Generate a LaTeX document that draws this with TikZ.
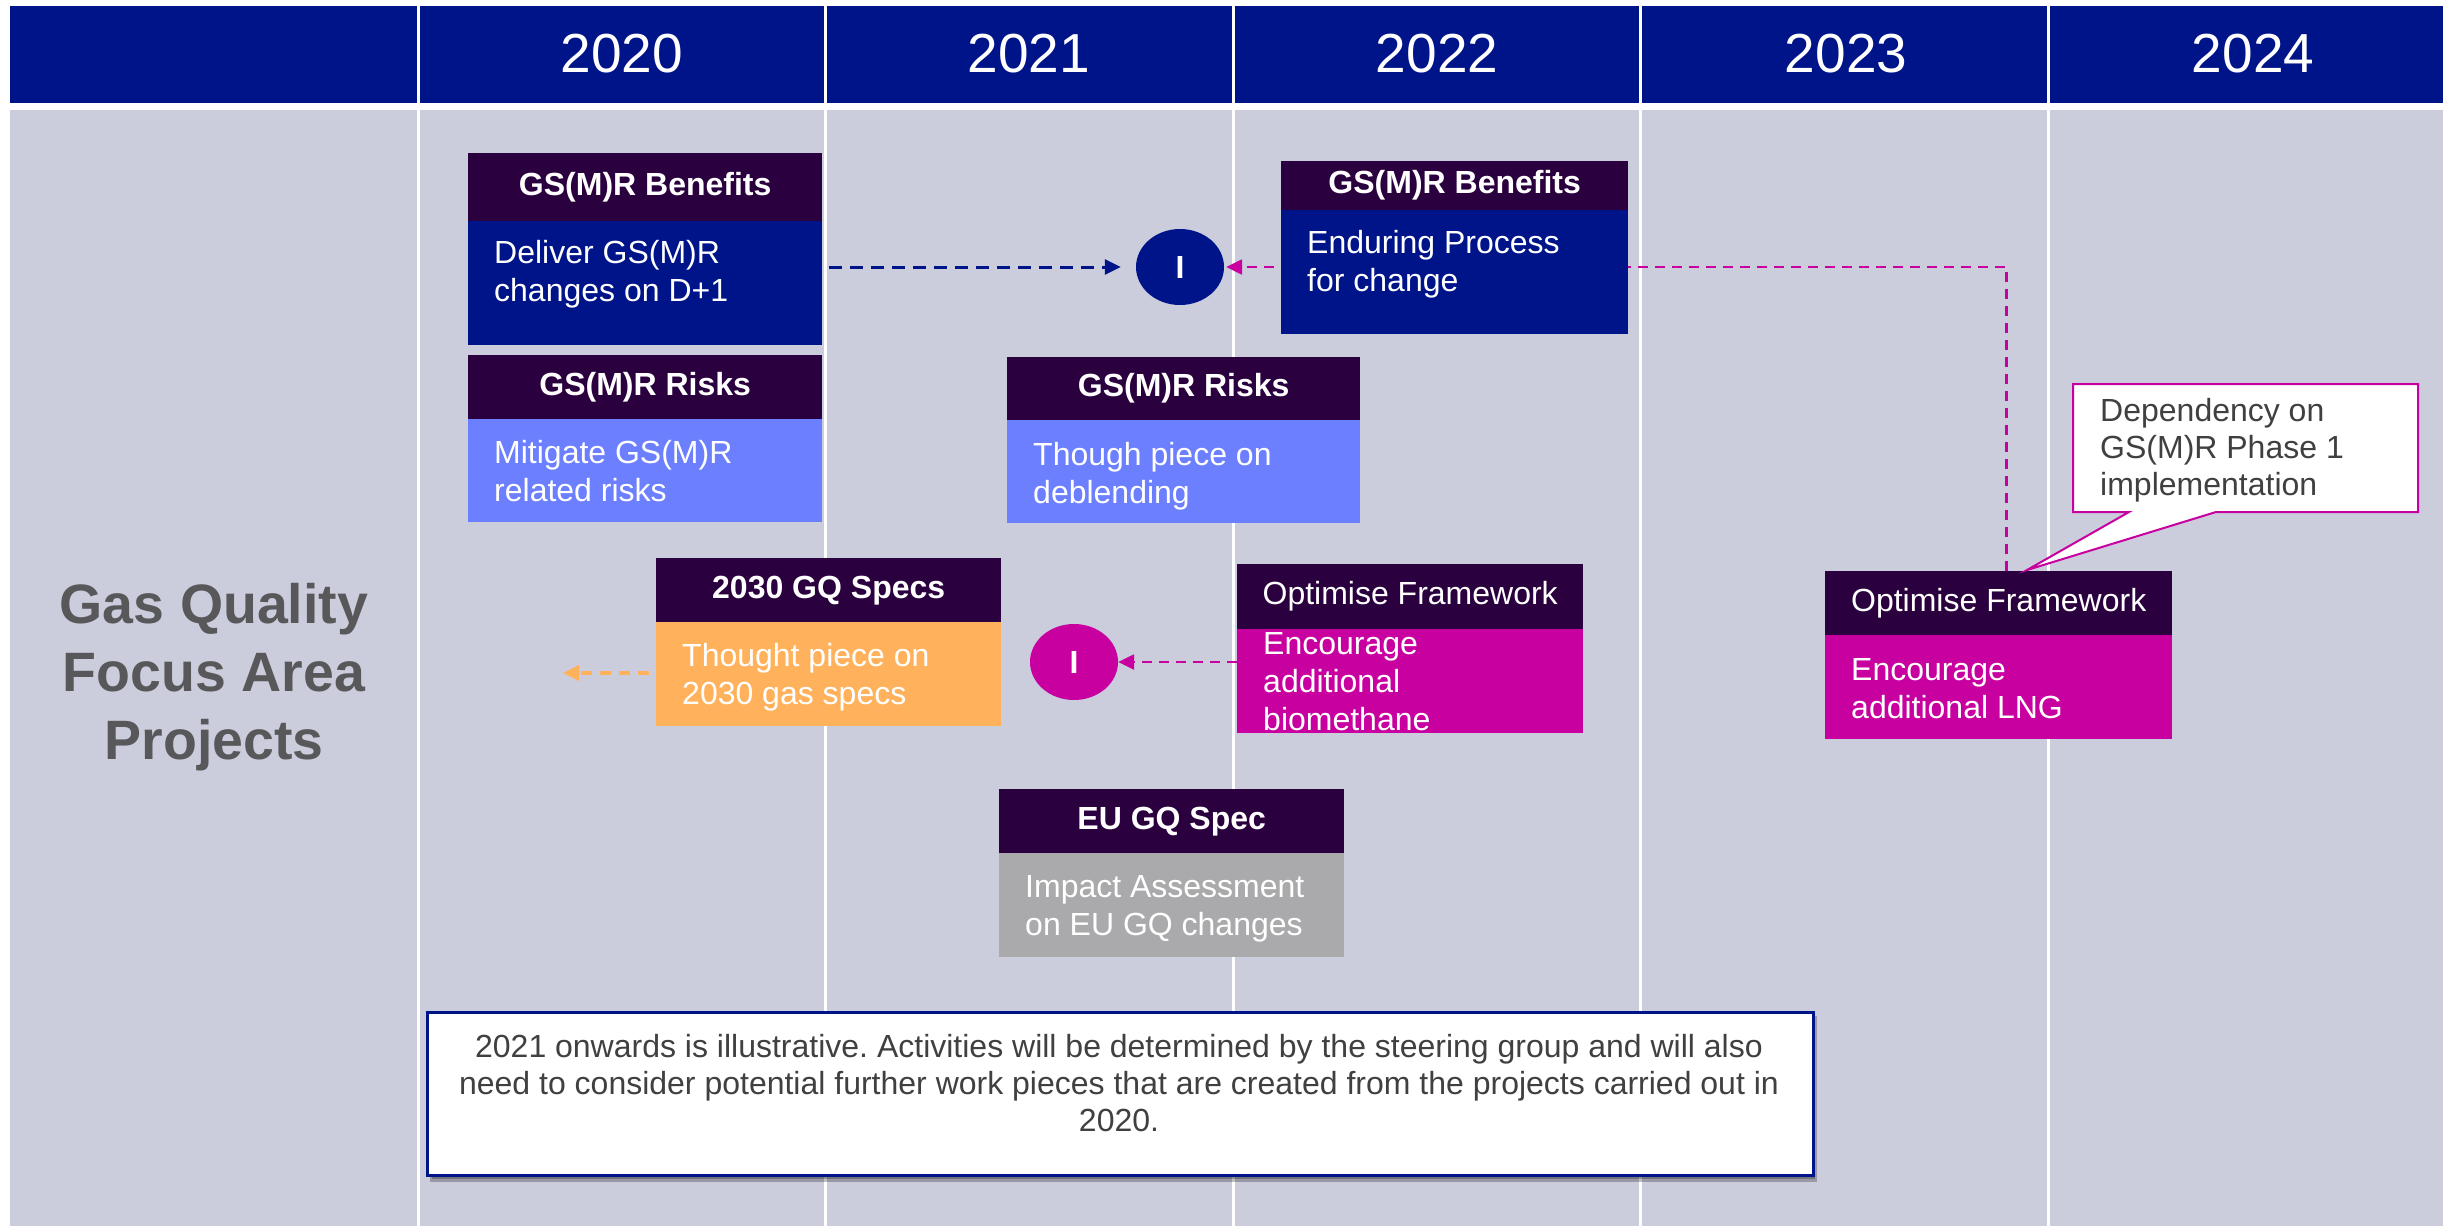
\documentclass[tikz,border=0pt]{standalone}
\usepackage{fontspec}
\setmainfont{Liberation Sans}
\usetikzlibrary{arrows.meta,calc,shapes.geometric}
\frenchspacing
\definecolor{navy}{RGB}{0,20,137}
\definecolor{bodygray}{RGB}{203,205,220}
\definecolor{hdrpurple}{RGB}{43,0,62}
\definecolor{periw}{RGB}{107,127,255}
\definecolor{orng}{RGB}{255,178,91}
\definecolor{mgnt}{RGB}{200,0,160}
\definecolor{boxgray}{RGB}{170,170,172}
\definecolor{lbltext}{RGB}{88,88,91}
\definecolor{darktext}{RGB}{64,64,64}
\newcommand{\fsz}[2]{\fontsize{#1}{#2}\selectfont}
% name, x left, x right, y top, y header/body, y bottom, body colour, header text, y of body text centre; body text follows as {...};
\newcommand{\pbox}[9]{%
  \node[hdrbox, minimum width={(#3-#2)*1pt}, minimum height={(#5-#4)*1pt}] (#1h) at (#2,#4) {#8};
  \node[bodybox, fill=#7, minimum width={(#3-#2)*1pt}, minimum height={(#6-#5)*1pt}] (#1b) at (#2,#5) {};
  \node[bodytxt] (#1t) at ({#2+26},#9)
}
\begin{document}
\begin{tikzpicture}[x=1pt,y=-1pt,
  hdrbox/.style={fill=hdrpurple, text=white, inner sep=0pt, anchor=north west, font=\fsz{32}{38}},
  bodybox/.style={inner sep=0pt, anchor=north west},
  bodytxt/.style={text=white, anchor=west, align=left, inner sep=0pt, font=\fsz{32}{38}},
  yearlbl/.style={text=white, font=\fsz{55}{66}},
  sepline/.style={white, line width=3pt},
  ibubble/.style={ellipse, minimum width=88pt, minimum height=76pt, inner sep=0pt, text=white, font=\fsz{32}{38}\bfseries},
  tip/.style={-{Triangle[length=16pt,width=15pt]}},
  navyarrow/.style={tip, draw=navy, line width=3pt, dash pattern=on 13pt off 8pt},
  magarrow/.style={tip, draw=mgnt, line width=2.5pt, dash pattern=on 10pt off 7pt},
  orarrow/.style={tip, draw=orng, line width=3.5pt, dash pattern=on 11pt off 8pt},
]
\useasboundingbox (0,0) rectangle (2443,1226);
\fill[white] (0,0) rectangle (2443,1226);
% header band and body
\fill[navy] (10,6) rectangle (2443,103);
\fill[bodygray] (10,110) rectangle (2443,1226);
\foreach \sx in {418,825.5,1233,1640.5,2048} {
  \draw[sepline] (\sx,6) -- (\sx,103);
  \draw[sepline] (\sx,110) -- (\sx,1226);
}
\node[yearlbl] (y2020) at (622,54) {2020};
\node[yearlbl] (y2021) at (1029,54) {2021};
\node[yearlbl] (y2022) at (1437,54) {2022};
\node[yearlbl] (y2023) at (1846,54) {2023};
\node[yearlbl] (y2024) at (2253,54) {2024};
% left label
\node[font=\fsz{55.5}{68}\bfseries, text=lbltext, align=center] (lbl) at (214,677) {Gas Quality\\Focus Area\\Projects};

% circles
\node[ibubble, fill=navy] (c1) at (1180,267) {I};
\node[ibubble, fill=mgnt] (c2) at (1074,662) {I};

% box 7 first, then the connector that runs behind box 3
\pbox{b7}{1825}{2172}{571}{635}{739}{mgnt}{Optimise Framework}{689}{Encourage\\additional LNG};
\draw[magarrow, shorten >=2pt] ([xshift=8pt]b7h.north) |- (c1.east);

\pbox{b1}{468}{822}{153}{221}{345}{navy}{\bfseries GS(M)R Benefits}{274}{Deliver GS(M)R\\changes on D+1};
\pbox{b2}{468}{822}{355}{419}{522}{periw}{\bfseries GS(M)R Risks}{471}{Mitigate GS(M)R\\related risks};
\pbox{b3}{1281}{1628}{161}{210}{334}{navy}{\bfseries GS(M)R Benefits}{264}{Enduring Process\\for change};
\pbox{b4}{1007}{1360}{357}{420}{523}{periw}{\bfseries GS(M)R Risks}{476}{Though piece on\\deblending};
\pbox{b5}{656}{1001}{558}{622}{726}{orng}{\bfseries 2030 GQ Specs}{677}{Thought piece on\\2030 gas specs};
\pbox{b6}{1237}{1583}{564}{629}{733}{mgnt}{Optimise Framework}{682}{Encourage\\additional\\biomethane};
\pbox{b8}{999}{1344}{789}{853}{957}{boxgray}{\bfseries EU GQ Spec}{909}{Impact Assessment\\on EU GQ changes};

% connectors
\draw[navyarrow, shorten >=15pt] ($(b1b.east |- c1.west)+(7,0)$) -- (c1.west);
\draw[magarrow] (b6b.west |- c2.east) -- (c2.east);
\coordinate (orend) at (563,673);
\draw[orarrow, shorten <=7pt] (b5b.west |- orend) -- (orend);

% callout
\draw[mgnt, line width=2pt, fill=white, line join=miter]
  (2073,384) -- (2418,384) -- (2418,512) -- (2216,512) -- (2027,570) -- (2129,512) -- (2073,512) -- cycle;
\node[anchor=west, align=left, inner sep=0pt, text=darktext, font=\fsz{32}{37}] (dep) at (2100,450)
  {Dependency on\\GS(M)R Phase 1\\implementation};

% note
\fill[black, opacity=0.25] (430,1016) rectangle (1817,1182);
\fill[black, opacity=0.25] (432,1018) rectangle (1815,1179);
\node[draw=navy, line width=2.5pt, fill=white, minimum width=1386pt, minimum height=163pt, inner sep=0pt, anchor=north west] (note) at (426,1011) {};
\node[align=center, inner sep=0pt, text=darktext, font=\fsz{32}{37}] (notetxt) at (1119,1083)
  {2021 onwards is illustrative. Activities will be determined by the steering group and will also\\need to consider potential further work pieces that are created from the projects carried out in\\2020.};
\end{tikzpicture}
\end{document}
